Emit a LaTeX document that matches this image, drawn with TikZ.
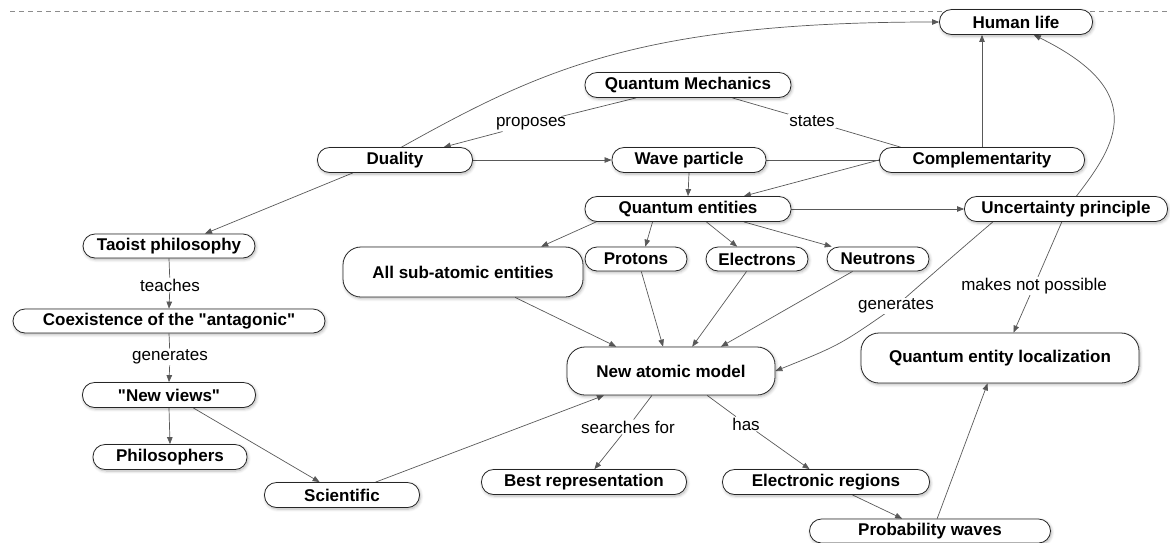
\documentclass[tikz,border=0pt]{standalone}
\usepackage{fontspec}
\setmainfont{Liberation Sans}[Ligatures=TeXOff]
\usetikzlibrary{arrows.meta,shadows.blur}
\pgfdeclarelayer{background}
\pgfsetlayers{background,main}
\tikzset{
 concept/.style={draw=black!85, line width=0.8pt, fill=white, rounded corners=12pt,
   minimum height=25pt, inner sep=0pt, font=\fontsize{17}{19}\selectfont\bfseries,
   blur shadow={shadow blur steps=6, shadow xshift=1pt, shadow yshift=-1.5pt, shadow opacity=30, shadow blur radius=3pt}},
 tall/.style={concept, minimum height=50pt, rounded corners=18pt},
 link/.style={fill=white, inner sep=1pt, font=\fontsize{17}{19}\selectfont},
 conn/.style={draw=black!65, line width=0.7pt, -{Triangle[length=7pt,width=5.5pt]}},
 plain/.style={draw=black!65, line width=0.7pt},
 sep/.style={draw=black!45, line width=0.6pt, dash pattern=on 5pt off 4pt},
}
\begin{document}
\begin{tikzpicture}[x=1pt,y=-1pt]
\useasboundingbox (0,0) rectangle (1170,542);

% concepts
\node[concept, minimum width=153pt] (hl) at (1016,22) {Human life};
\node[concept, minimum width=206pt] (qm) at (688,85) {Quantum Mechanics};
\node[concept, minimum width=155pt] (dual) at (395,160) {Duality};
\node[concept, minimum width=154pt] (wp) at (689,160) {Wave particle};
\node[concept, minimum width=205pt] (comp) at (982,160) {Complementarity};
\node[concept, minimum width=206pt] (qe) at (688,209) {Quantum entities};
\node[concept, minimum width=203pt] (up) at (1066,209) {Uncertainty principle};
\node[concept, minimum width=172pt, minimum height=24pt] (tao) at (169,246) {Taoist philosophy};
\node[concept, minimum width=312pt, minimum height=24pt] (coex) at (169,321) {Coexistence of the "antagonic"};
\node[concept, minimum width=173pt] (nv) at (169,395) {"New views"};
\node[concept, minimum width=154pt] (phil) at (170,457) {Philosophers};
\node[concept, minimum width=155pt] (sci) at (342,495) {Scientific};
\node[tall, minimum width=240pt] (ase) at (463,272) {All sub-atomic entities};
\node[concept, minimum width=102pt, minimum height=24pt] (prot) at (636,259) {Protons};
\node[concept, minimum width=102pt, minimum height=24pt] (elec) at (757,259) {Electrons};
\node[concept, minimum width=102pt, minimum height=24pt] (neut) at (878,259) {Neutrons};
\node[tall, minimum width=208pt, minimum height=48pt] (nam) at (671,371) {New atomic model};
\node[tall, minimum width=278pt] (qel) at (1000,358) {Quantum entity localization};
\node[concept, minimum width=205pt] (br) at (584,482) {Best representation};
\node[concept, minimum width=207pt] (er) at (826,482) {Electronic regions};
\node[concept, minimum width=241pt, minimum height=24pt] (pw) at (930,531) {Probability waves};

% linking phrases
\node[link] (lprop) at (531,124) {proposes};
\node[link] (lstates) at (812,121) {states};
\node[link] (lteach) at (170,285) {teaches};
\node[link] (lgenb) at (170,357) {generates};
\node[link] (lgen) at (896,306) {generates};
\node[link] (lmnp) at (1034,286) {makes not possible};
\node[link] (lsearch) at (628,427) {searches for};
\node[link] (lhas) at (746,424) {has};

\begin{pgfonlayer}{background}
\draw[sep] (10,11) -- (1170,11);
\draw[conn] (qm) -- (lprop) -- (dual);
\draw[plain] (qm) -- (lstates) -- (comp.171);
\draw[conn] (dual.east) -- (wp.west);
\draw[plain] (comp.west) -- (wp.east);
\draw[conn] (comp.west) -- (qe.13);
\draw[conn] (wp.south) -- (qe.north);
\draw[conn] (comp.north) -- (comp.north |- hl.south);
\draw[conn] (dual.63) .. controls (540,70) and (640,22) .. (hl.west);
\draw[conn] (up.51) .. controls (1116,145) and (1150,92) .. (hl.-36);
\draw[conn] (qe.east) -- (up.west);
\draw[conn] (qe.-172) -- (ase.18);
\draw[conn] (qe.-160) -- (prot.53);
\draw[conn] (qe.-35) -- (elec.148);
\draw[conn] (qe.-13.5) -- (neut.165);
\draw[conn] (ase.-26) -- (nam.156);
\draw[conn] (prot.-67) -- (nam.108);
\draw[conn] (elec.-130) -- (nam.49);
\draw[conn] (neut.-154) -- (nam.26);
\draw[conn] (up.-170) .. controls (960,250) .. (lgen.center) .. controls (840,345) .. (nam.east);
\draw[conn] (up.-108) -- (lmnp) -- (qel.62);
\draw[conn] (dual.-163) -- (tao.19);
\draw[conn] (tao.south) -- (lteach) -- (coex.north);
\draw[conn] (coex.south) -- (lgenb) -- (nv.north);
\draw[conn] (nv.south) -- (phil.north);
\draw[conn] (nv.-28) -- (sci.150);
\draw[conn] (sci.21) -- (nam.-160);
\draw[conn] (nam.-128) -- (lsearch) -- (br.51);
\draw[conn] (nam.-34) -- (lhas) -- (er.142);
\draw[conn] (er.-26) -- (pw.156);
\draw[conn] (pw.60) -- (qel.-116);
\end{pgfonlayer}
\end{tikzpicture}
\end{document}
